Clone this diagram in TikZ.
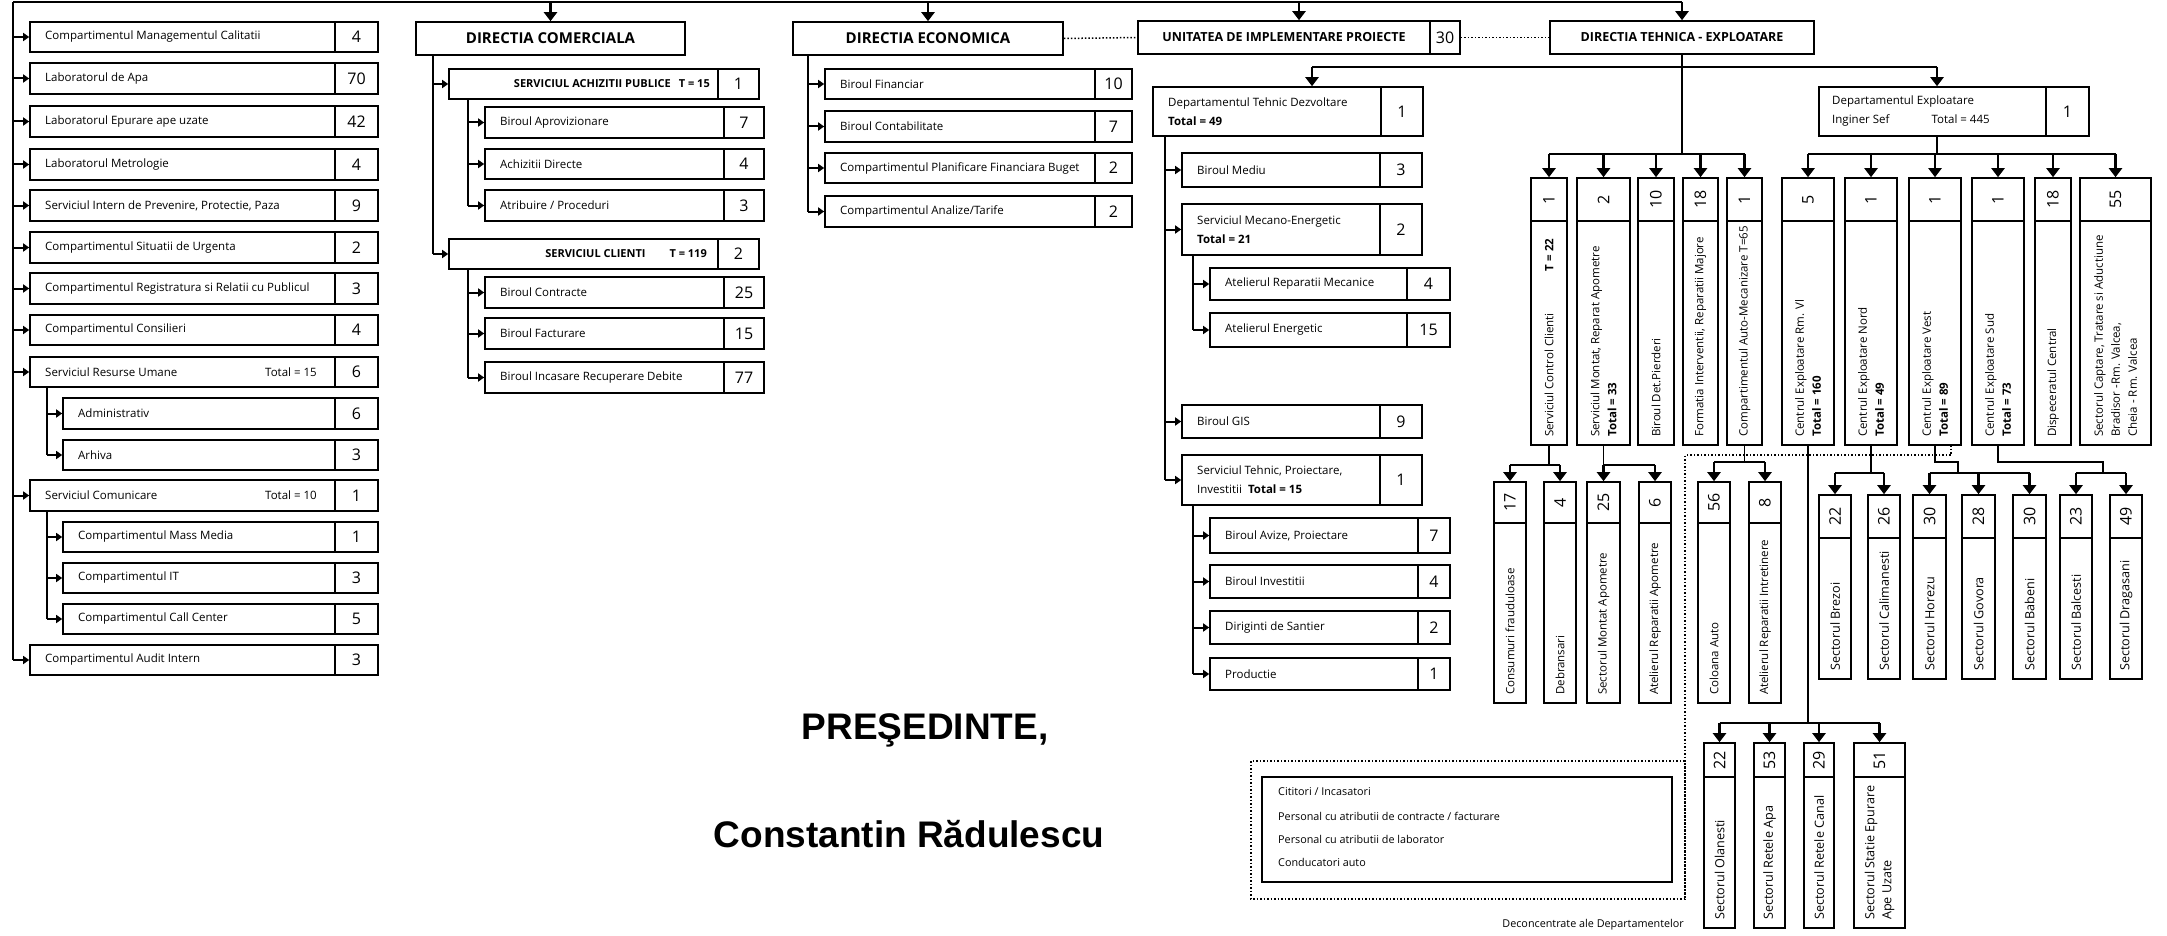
\documentclass[tikz,border=0pt]{standalone}
\usepackage{fontspec}
\setmainfont{Open Sans}
\newfontfamily\arialfam{Liberation Sans}
\usetikzlibrary{arrows.meta,fit,calc}
\tikzset{
  bx/.style={draw, line width=1.6pt, inner sep=0pt},
  bxl/.style={line width=1.6pt},
  conn/.style={line width=2pt},
  vline/.style={line width=1.3pt},
  bar/.style={line width=2.6pt},
  arr/.style={line width=2pt, -{Triangle[length=6pt,width=8pt]}},
  bigarr/.style={line width=2.6pt, -{Triangle[length=9pt,width=13pt]}},
  txt/.style={font=\fontsize{11.5}{19}\selectfont, inner sep=0pt, align=left},
  vtxt/.style={font=\fontsize{11.5}{17}\selectfont, inner sep=0pt, align=left},
  vbig/.style={font=\fontsize{12.6}{17}\selectfont},
  num/.style={font=\fontsize{16}{18}\selectfont, inner sep=0pt},
  hdr/.style={font=\bfseries\fontsize{15}{18}\selectfont, inner sep=0pt},
  hdrb/.style={font=\bfseries\fontsize{12.5}{15}\selectfont, inner sep=0pt},
  capt/.style={font=\bfseries\fontsize{11}{13}\selectfont, inner sep=0pt},
  legtxt/.style={font=\fontsize{10.8}{13}\selectfont, inner sep=0pt},
  pres/.style={font=\arialfam\bfseries\fontsize{37}{42}\selectfont, inner sep=0pt},
  dots/.style={line width=1.5pt, dotted},
}
% name, xl, xr, ytop, ybot, xdiv, text, number
\newcommand{\horunit}[8]{%
  \node[bx, fit={(#2,#4) (#3,#5)}] (#1) {};
  \draw[bxl] (#6,#4) -- (#6,#5);
  \node[txt, anchor=west] at ({#2+15},{(#4+#5)/2}) {#7};
  \node[num] at ({(#6+#3)/2},{(#4+#5)/2}) {#8};
}
% [text style] name, xl, xr, ytop, ydiv, ybot, number, text
\newcommand{\vertunit}[9][]{%
  \node[bx, fit={(#3,#5) (#4,#7)}] (#2) {};
  \draw[bxl] (#3,#6) -- (#4,#6);
  \node[num, rotate=90] at ({(#3+#4)/2},{(#5+#6)/2}) {#8};
  \node[vtxt, #1, rotate=90, anchor=west] at ({(#3+#4)/2},{#7-8}) {#9};
}
\begin{document}
\begin{tikzpicture}[x=1pt,y=-1pt]
\useasboundingbox (0,0) rectangle (2167,936);

% ---------------- left column
\horunit{L1}{30}{378}{22}{52}{335}{Compartimentul Managementul Calitatii}{4}
\horunit{L2}{30}{378}{63}{94}{335}{Laboratorul de Apa}{70}
\horunit{L3}{30}{378}{106}{137}{335}{Laboratorul Epurare ape uzate}{42}
\horunit{L4}{30}{378}{149}{180}{335}{Laboratorul Metrologie}{4}
\horunit{L5}{30}{378}{190}{221}{335}{Serviciul Intern de Prevenire, Protectie, Paza}{9}
\horunit{L6}{30}{378}{232}{263}{335}{Compartimentul Situatii de Urgenta}{2}
\horunit{L7}{30}{378}{273}{304}{335}{Compartimentul Registratura si Relatii cu Publicul}{3}
\horunit{L8}{30}{378}{315}{345}{335}{Compartimentul Consilieri}{4}
\horunit{L9}{30}{378}{357}{387}{335}{Serviciul Resurse Umane}{6}
\node[txt, anchor=east] at (317,372) {Total = 15};
\horunit{L10}{63}{378}{398}{429}{335}{Administrativ}{6}
\horunit{L11}{63}{378}{440}{470}{335}{Arhiva}{3}
\horunit{L12}{30}{378}{480}{511}{335}{Serviciul Comunicare}{1}
\node[txt, anchor=east] at (317,495.5) {Total = 10};
\horunit{L13}{63}{378}{522}{552}{335}{Compartimentul Mass Media}{1}
\horunit{L14}{63}{378}{563}{593}{335}{Compartimentul IT}{3}
\horunit{L15}{63}{378}{604}{634}{335}{Compartimentul Call Center}{5}
\horunit{L16}{30}{378}{645}{675}{335}{Compartimentul Audit Intern}{3}

\coordinate (TR) at (13,2);
\draw[conn] (TR) -- (TR |- L16.west);
\foreach \n in {L1,L2,L3,L4,L5,L6,L7,L8,L9,L12,L16}
  \draw[arr] (\n.west -| TR) -- (\n.west);
\coordinate (S1) at (47,387);
\draw[conn] (S1) -- (S1 |- L11.west);
\foreach \n in {L10,L11} \draw[arr] (\n.west -| S1) -- (\n.west);
\coordinate (S2) at (47,511);
\draw[conn] (S2) -- (S2 |- L15.west);
\foreach \n in {L13,L14,L15} \draw[arr] (\n.west -| S2) -- (\n.west);

% ---------------- directia comerciala
\node[bx, fit={(416,22) (685,55)}] (DC) {};
\node[hdr] at (DC.center) {DIRECTIA COMERCIALA};
\horunit{C1}{449}{759}{69}{99}{718}{}{1}
\node[capt, anchor=east] at (710,84) {SERVICIUL ACHIZITII PUBLICE\hspace{8pt}T = 15};
\horunit{C2}{485}{764}{107}{138}{724}{Biroul Aprovizionare}{7}
\horunit{C3}{485}{764}{149}{179}{724}{Achizitii Directe}{4}
\horunit{C4}{485}{764}{190}{221}{724}{Atribuire / Proceduri}{3}
\horunit{C5}{449}{759}{239}{269}{718}{}{2}
\node[capt, anchor=east] at (707,254) {SERVICIUL CLIENTI\hspace{24pt}T = 119};
\horunit{C6}{485}{764}{277}{308}{724}{Biroul Contracte}{25}
\horunit{C7}{485}{764}{318}{349}{724}{Biroul Facturare}{15}
\horunit{C8}{485}{764}{362}{393}{724}{Biroul Incasare Recuperare Debite}{77}
\coordinate (CT) at (433,55);
\draw[conn] (CT) -- (CT |- C5.west);
\foreach \n in {C1,C5} \draw[arr] (\n.west -| CT) -- (\n.west);
\coordinate (CS1) at (468,99);
\draw[conn] (CS1) -- (CS1 |- C4.west);
\foreach \n in {C2,C3,C4} \draw[arr] (\n.west -| CS1) -- (\n.west);
\coordinate (CS2) at (468,269);
\draw[conn] (CS2) -- (CS2 |- C8.west);
\foreach \n in {C6,C7,C8} \draw[arr] (\n.west -| CS2) -- (\n.west);

% ---------------- directia economica
\node[bx, fit={(793,22) (1063,55)}] (DE) {};
\node[hdr] at (DE.center) {DIRECTIA ECONOMICA};
\horunit{E1}{825}{1132}{69}{99}{1095}{Biroul Financiar}{10}
\horunit{E2}{825}{1132}{111}{142}{1095}{Biroul Contabilitate}{7}
\horunit{E3}{825}{1132}{153}{183}{1095}{Compartimentul Planificare Financiara Buget}{2}
\horunit{E4}{825}{1132}{196}{227}{1095}{Compartimentul Analize/Tarife}{2}
\coordinate (ET) at (808,55);
\draw[conn] (ET) -- (ET |- E4.west);
\foreach \n in {E1,E2,E3,E4} \draw[arr] (\n.west -| ET) -- (\n.west);

% ---------------- unitatea + directia tehnica
\node[bx, fit={(1138,21) (1460,54)}] (UIP) {};
\draw[bxl] (1430,21) -- (1430,54);
\node[hdrb] at (1284,37.5) {UNITATEA DE IMPLEMENTARE PROIECTE};
\node[num] at (1445,37.5) {30};
\node[bx, fit={(1550,21) (1814,54)}] (DT) {};
\node[hdrb] at (DT.center) {DIRECTIA TEHNICA - EXPLOATARE};
\draw[dots] (DE.east) -- (UIP.west);
\draw[dots] (UIP.east) -- (DT.west);

% top bus
\draw[conn] (TR) -- (TR -| DT.north);
\foreach \n in {DC,DE,UIP,DT} \draw[bigarr] (\n.north |- TR) -- (\n.north);

% departments
\node[bx, fit={(1153,87) (1423,136)}] (DTD) {};
\draw[bxl] (1381,87) -- (1381,136);
\node[txt, anchor=west] at (1168,111.5) {Departamentul Tehnic Dezvoltare\\\textbf{Total = 49}};
\node[num] at (1402,111.5) {1};
\node[bx, fit={(1819,87) (2089,136)}] (DEX) {};
\draw[bxl] (2046,87) -- (2046,136);
\node[txt, anchor=west] at (1832,111.5) {Departamentul Exploatare\\Inginer Sef\hspace{42pt}Total = 445};
\node[num] at (2067.5,111.5) {1};

\coordinate (DBL) at (1312,67);
\coordinate (DBR) at (1937,67);
\coordinate (VB) at (0,154);
\draw[bar] (DBL) -- (DBR);
\draw[bigarr] (DBL) -- (DBL |- DTD.north);
\draw[bigarr] (DBR) -- (DBR |- DEX.north);
\draw[vline] (DT.south) -- (DT.south |- VB);
\draw[vline] (DBR |- DEX.south) -- (DBR |- VB);

% dezvoltare children
\horunit{T1}{1182}{1422}{153}{187}{1380}{Biroul Mediu}{3}
\horunit{T2}{1182}{1422}{204}{255}{1380}{Serviciul Mecano-Energetic\\\textbf{Total = 21}}{2}
\horunit{T3}{1210}{1450}{268}{300}{1407}{Atelierul Reparatii Mecanice}{4}
\horunit{T4}{1210}{1450}{313}{347}{1407}{Atelierul Energetic}{15}
\horunit{T5}{1182}{1422}{405}{438}{1380}{Biroul GIS}{9}
\horunit{T6}{1182}{1422}{455}{505}{1380}{Serviciul Tehnic, Proiectare,\\Investitii\hspace{6pt}\textbf{Total = 15}}{1}
\horunit{T7}{1210}{1450}{518}{553}{1418}{Biroul Avize, Proiectare}{7}
\horunit{T8}{1210}{1450}{565}{598}{1418}{Biroul Investitii}{4}
\horunit{T9}{1210}{1450}{611}{644}{1418}{Diriginti de Santier}{2}
\horunit{T10}{1210}{1450}{658}{690}{1418}{Productie}{1}
\coordinate (DTT) at (1165,136);
\draw[conn] (DTT) -- (DTT |- T6.west);
\foreach \n in {T1,T2,T5,T6} \draw[arr] (\n.west -| DTT) -- (\n.west);
\coordinate (TS1) at (1193,255);
\draw[conn] (TS1) -- (TS1 |- T4.west);
\foreach \n in {T3,T4} \draw[arr] (\n.west -| TS1) -- (\n.west);
\coordinate (TS2) at (1193,505);
\draw[conn] (TS2) -- (TS2 |- T10.west);
\foreach \n in {T7,T8,T9,T10} \draw[arr] (\n.west -| TS2) -- (\n.west);

% vertical boxes, upper row
\vertunit{V1}{1531}{1567}{178}{221}{445}{1}{Serviciul Control Clienti\hspace{42pt}\textbf{T = 22}}
\vertunit{V2}{1577}{1630}{178}{221}{445}{2}{Serviciul Montat, Reparat Apometre\\\textbf{Total = 33}}
\vertunit{V3}{1638}{1674}{178}{221}{445}{10}{Biroul Det.Pierderi}
\vertunit{V4}{1683}{1718}{178}{221}{445}{18}{Formatia Interventii, Reparatii Majore}
\vertunit{V5}{1727}{1762}{178}{221}{445}{1}{Compartimentul Auto-Mecanizare T=65}
\vertunit{V6}{1782}{1834}{178}{221}{445}{5}{Centrul Exploatare Rm. Vl\\\textbf{Total = 160}}
\vertunit{V7}{1845}{1897}{178}{221}{445}{1}{Centrul Exploatare Nord\\\textbf{Total = 49}}
\vertunit{V8}{1909}{1961}{178}{221}{445}{1}{Centrul Exploatare Vest\\\textbf{Total = 89}}
\vertunit{V9}{1972}{2024}{178}{221}{445}{1}{Centrul Exploatare Sud\\\textbf{Total = 73}}
\vertunit{V10}{2035}{2071}{178}{221}{445}{18}{Dispeceratul Central}
\vertunit{V11}{2080}{2151}{178}{221}{445}{55}{Sectorul Captare, Tratare si Aductiune\\Bradisor -Rm. Valcea,\\Cheia - Rm. Valcea}

\draw[bar] (V1.north |- VB) -- (V5.north |- VB);
\foreach \n in {V1,V2,V3,V4,V5} \draw[bigarr] (\n.north |- VB) -- (\n.north);
\draw[bar] (V6.north |- VB) -- (V11.north |- VB);
\foreach \n in {V6,V7,V8,V9,V10,V11} \draw[bigarr] (\n.north |- VB) -- (\n.north);

% vertical boxes, lower rows
\vertunit{B1}{1494}{1526}{482}{523}{703}{17}{Consumuri frauduloase}
\vertunit{B2}{1544}{1576}{482}{523}{703}{4}{Debransari}
\vertunit{B3}{1587}{1620}{482}{523}{703}{25}{Sectorul Montat Apometre}
\vertunit{B4}{1639}{1671}{482}{523}{703}{6}{Atelierul Reparatii Apometre}
\vertunit{B5}{1698}{1730}{482}{523}{703}{56}{Coloana Auto}
\vertunit{B6}{1749}{1781}{482}{523}{703}{8}{Atelierul Reparatii Intretinere}
\vertunit[vbig]{B7}{1819}{1851}{495}{538}{679}{22}{Sectorul Brezoi}
\vertunit[vbig]{B8}{1868}{1900}{495}{538}{679}{26}{Sectorul Calimanesti}
\vertunit[vbig]{B9}{1913}{1946}{495}{538}{679}{30}{Sectorul Horezu}
\vertunit[vbig]{B10}{1962}{1995}{495}{538}{679}{28}{Sectorul Govora}
\vertunit[vbig]{B11}{2013}{2046}{495}{538}{679}{30}{Sectorul Babeni}
\vertunit[vbig]{B12}{2060}{2092}{495}{538}{679}{23}{Sectorul Balcesti}
\vertunit[vbig]{B13}{2110}{2142}{495}{538}{679}{49}{Sectorul Dragasani}
\vertunit[vbig]{B14}{1704}{1735}{743}{777}{928}{22}{Sectorul Olanesti}
\vertunit[vbig]{B15}{1754}{1785}{743}{777}{928}{53}{Sectorul Retele Apa}
\vertunit[vbig]{B16}{1804}{1834}{743}{777}{928}{29}{Sectorul Retele Canal}
\vertunit[vbig]{B17}{1854}{1905}{743}{777}{928}{51}{Sectorul Statie Epurare\\Ape Uzate}

\coordinate (Y1) at (0,465);
\coordinate (Y2) at (0,473);
\coordinate (Y3) at (0,462);
\coordinate (Y4) at (0,723);
\coordinate (K8) at (1958,462);
\coordinate (K9) at (2103,462);

\draw[vline] (V1.south) -- (V1.south |- Y1);
\draw[bar] (B1.north |- Y1) -- (B2.north |- Y1);
\draw[vline] (V2.south) -- (V2.south |- Y1);
\draw[bar] (B3.north |- Y1) -- (B4.north |- Y1);
\foreach \n in {B1,B2,B3,B4} \draw[bigarr] (\n.north |- Y1) -- (\n.north);
\draw[vline] (V5.south) -- (V5.south |- Y3);
\draw[bar] (B5.north |- Y3) -- (B6.north |- Y3);
\foreach \n in {B5,B6} \draw[bigarr] (\n.north |- Y3) -- (\n.north);
\draw[vline] (V6.south) -- (V6.south |- Y4);
\draw[bar] (B14.north |- Y4) -- (B17.north |- Y4);
\foreach \n in {B14,B15,B16,B17} \draw[bigarr] (\n.north |- Y4) -- (\n.north);
\draw[vline] (V7.south) -- (V7.south |- Y2);
\draw[bar] (B7.north |- Y2) -- (B8.north |- Y2);
\draw[vline] (V8.south) -- (V8.south |- Y3) -- (K8) -- (K8 |- Y2);
\draw[bar] (B9.north |- Y2) -- (B11.north |- Y2);
\draw[vline] (V9.south) -- (V9.south |- Y3) -- (K9) -- (K9 |- Y2);
\draw[bar] (B12.north |- Y2) -- (B13.north |- Y2);
\foreach \n in {B7,B8,B9,B10,B11,B12,B13} \draw[bigarr] (\n.north |- Y2) -- (\n.north);

% deconcentrate / legend
\coordinate (DQ1) at (1951,445);
\coordinate (DQ2) at (1685,455);
\draw[dots] (DQ1) -- (DQ1 |- DQ2) -- (DQ2) -- (1685,899);
\draw[dots] (1251,761) rectangle (1685,899);
\node[bx, fit={(1262,777) (1672,882)}] (LEG) {};
\node[legtxt, anchor=west] at (1278,792) {Cititori / Incasatori};
\node[legtxt, anchor=west] at (1278,816) {Personal cu atributii de contracte / facturare};
\node[legtxt, anchor=west] at (1278,839) {Personal cu atributii de laborator};
\node[legtxt, anchor=west] at (1278,862) {Conducatori auto};
\node[legtxt, anchor=east] at (1684,925) {Deconcentrate ale Departamentelor};

% signature
\node[pres, anchor=base] (PR) at (925,739) {PREŞEDINTE,};
\node[pres, anchor=base] (NM) at (909,847) {Constantin Rădulescu};
\end{tikzpicture}
\end{document}
